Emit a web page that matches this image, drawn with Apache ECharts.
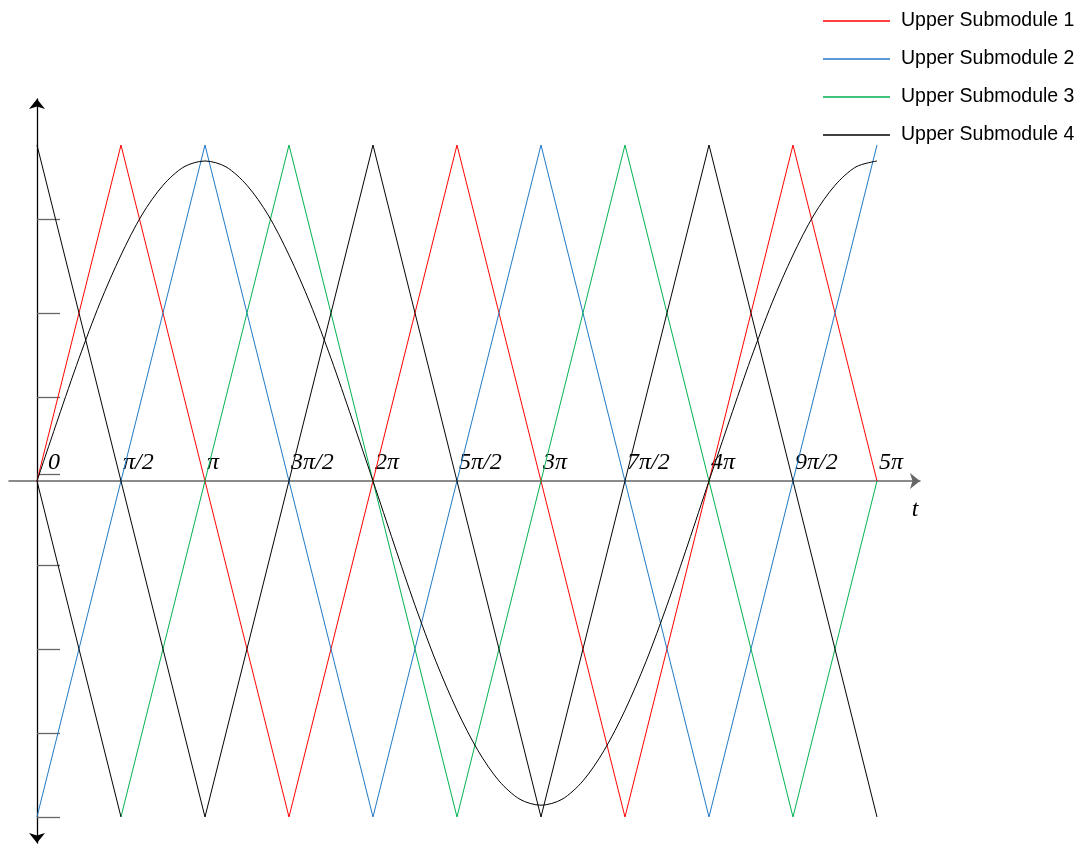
<!DOCTYPE html>
<html>
<head>
<meta charset="utf-8">
<script src="https://cdn.jsdelivr.net/npm/echarts@6/dist/echarts.min.js"></script>
<style>
html,body{margin:0;padding:0;background:#fff;}
#chart{width:1087px;height:844px;}
</style>
</head>
<body>
<div id="chart"></div>
<script>
// x in units of pi/2
var tickValues = [0,1,2,3,4,5,6,7,8,9,10];
var tickLabels = ['0','\u03c0/2','\u03c0','3\u03c0/2','2\u03c0','5\u03c0/2','3\u03c0','7\u03c0/2','4\u03c0','9\u03c0/2','5\u03c0'];
var yTickValues = [3.12, 2, 1, 0.08, -1, -2, -3, -4];

var seriesNames = ['Upper Submodule 1','Upper Submodule 2','Upper Submodule 3','Upper Submodule 4'];

var sub1X = [0,1,3,5,7,9,10];
var sub1Y = [0,4,-4,4,-4,4,0];
var sub2X = [0,2,4,6,8,10];
var sub2Y = [-4,4,-4,4,-4,4];
var sub3X = [1,3,5,7,9,10];
var sub3Y = [-4,4,-4,4,-4,0];
var sub3LeadX = [0,1];
var sub3LeadY = [0,-4];
var sub4X = [0,2,4,6,8,10];
var sub4Y = [4,-4,4,-4,4,-4];

var sineX = [0,0.25,0.5,0.75,1,1.25,1.5,1.75,2,2.25,2.5,2.75,3,3.25,3.5,3.75,4,4.25,4.5,4.75,5,5.25,5.5,5.75,6,6.25,6.5,6.75,7,7.25,7.5,7.75,8,8.25,8.5,8.75,9,9.25,9.5,9.75,10];
var sineY = [0,0.74,1.46,2.12,2.69,3.17,3.52,3.74,3.81,3.74,3.52,3.17,2.69,2.12,1.46,0.74,0,-0.75,-1.48,-2.15,-2.73,-3.21,-3.57,-3.79,-3.86,-3.79,-3.57,-3.21,-2.73,-2.15,-1.48,-0.75,0,0.74,1.46,2.12,2.69,3.17,3.52,3.74,3.81];

var colors = ['#ff0000','#1f78c8','#00b050','#000000'];

function pairs(xs, ys){ return xs.map(function(x,i){ return [x, ys[i]]; }); }

var chart = echarts.init(document.getElementById('chart'), null, {renderer:'canvas'});

function lineSeries(name, xs, ys, color, smooth){
  return {
    name: name, type: 'line', data: pairs(xs, ys), symbol: 'none', smooth: smooth || false,
    lineStyle: {color: color, width: 1}, itemStyle: {color: color}, animation: false, z: 3
  };
}

var serif = 'Liberation Serif, Times New Roman, serif';

var option = {
  backgroundColor: '#fff',
  animation: false,
  grid: {left: 9, right: 167, top: 99, bottom: 1, containLabel: false},
  legend: {
    data: seriesNames,
    orient: 'vertical',
    left: 823, top: 11, padding: 0,
    itemWidth: 67, itemHeight: 1.5, itemGap: 18,
    icon: 'rect',
    textStyle: {fontFamily: 'Liberation Sans, Arial, sans-serif', fontSize: 19.5, color: '#000', padding: [0,0,0,6]}
  },
  xAxis: {
    type: 'value', min: -0.3333, max: 10.512,
    position: 'bottom', offset: -362,
    name: 't', nameLocation: 'end', nameGap: -5,
    nameTextStyle: {fontFamily: serif, fontStyle: 'italic', fontSize: 24, color: '#000', align: 'center', verticalAlign: 'top', padding: [17,0,0,0]},
    axisLine: {show: true, onZero: false, symbol: ['none','arrow'], symbolSize: [12,10], lineStyle: {color: '#666', width: 1.5}},
    axisTick: {show: false},
    splitLine: {show: false},
    axisLabel: {
      show: true, inside: true, customValues: tickValues, margin: 6,
      align: 'left', verticalAlign: 'bottom', padding: [0,0,0,2],
      fontFamily: serif, fontStyle: 'italic', fontSize: 24, color: '#000',
      formatter: function(v){
        var i = tickValues.indexOf(Math.round(v));
        if (i < 0) return '';
        return i === 0 ? '{z|' + tickLabels[i] + '}' : tickLabels[i];
      },
      rich: {z: {fontFamily: serif, fontStyle: 'italic', fontSize: 24, color: '#000', padding: [0,0,0,9]}}
    }
  },
  yAxis: {
    type: 'value', min: -4.31, max: 4.548,
    position: 'left', offset: -28,
    axisLine: {show: true, onZero: false, symbol: ['arrow','arrow'], symbolSize: [12,10], lineStyle: {color: '#000', width: 1.3}},
    axisTick: {show: true, inside: true, length: 23, customValues: yTickValues, lineStyle: {color: '#666', width: 1.3}},
    axisLabel: {show: false},
    splitLine: {show: false}
  },
  series: [
    lineSeries(seriesNames[0], sub1X, sub1Y, colors[0]),
    lineSeries(seriesNames[1], sub2X, sub2Y, colors[1]),
    lineSeries(seriesNames[2], sub3X, sub3Y, colors[2]),
    lineSeries(seriesNames[3], sub4X, sub4Y, colors[3]),
    lineSeries('lead', sub3LeadX, sub3LeadY, '#000000'),
    lineSeries('sine', sineX, sineY, '#000000', 0.3)
  ]
};
chart.setOption(option);
</script>
</body>
</html>
